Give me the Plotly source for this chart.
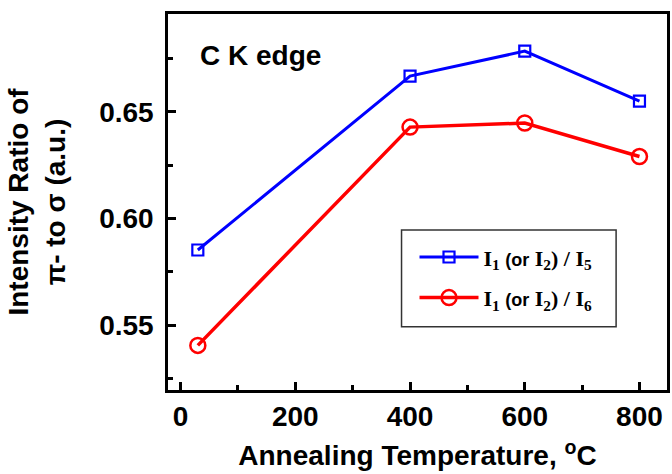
import plotly.graph_objects as go

temps = [30, 400, 600, 800]
ratio_i5 = [0.5852, 0.6667, 0.6784, 0.6550]
ratio_i6 = [0.5405, 0.6428, 0.6447, 0.6290]
name_i5 = 'I<sub>1</sub> <span style="font-family:Liberation Sans;font-size:18px">(or</span> I<sub>2</sub>) / I<sub>5</sub>'
name_i6 = 'I<sub>1</sub> <span style="font-family:Liberation Sans;font-size:18px">(or</span> I<sub>2</sub>) / I<sub>6</sub>'

SANS = "Liberation Sans, Arial, sans-serif"

fig = go.Figure()
fig.add_trace(go.Scatter(
    x=temps, y=ratio_i5, mode="lines+markers", name=name_i5, legendgroup="a",
    line=dict(color="#0000ff", width=3),
    marker=dict(symbol="square-open", size=11, color="#0000ff", line=dict(width=2.2, color="#0000ff")),
))
fig.add_trace(go.Scatter(
    x=temps, y=ratio_i6, mode="lines+markers", name=name_i6, legendgroup="b",
    line=dict(color="#ff0000", width=3.5),
    marker=dict(symbol="circle-open", size=15, color="#ff0000", line=dict(width=2.5, color="#ff0000")),
))

axis_common = dict(
    showline=True, linecolor="black", linewidth=2.5, mirror=True,
    ticks="inside", ticklen=8, tickwidth=2.5, tickcolor="black",
    showgrid=False, zeroline=False,
    tickfont=dict(family=SANS, size=28, color="black", weight="bold"),
)

fig.update_xaxes(
    range=[-22, 848], dtick=200, tick0=0,
    minor=dict(ticks="inside", ticklen=5, tickwidth=2.5, tickcolor="black", dtick=100),
    title=dict(text="Annealing Temperature, <sup>o</sup>C",
               font=dict(family=SANS, size=28, color="black", weight="bold"), standoff=15),
    **axis_common,
)
fig.update_yaxes(
    range=[0.5196, 0.6958], dtick=0.05, tick0=0.55, tickformat=".2f",
    minor=dict(ticks="inside", ticklen=5, tickwidth=2.5, tickcolor="black", dtick=0.025),
    title=dict(text="Intensity Ratio of<br>π- to σ (a.u.)",
               font=dict(family=SANS, size=28, color="black", weight="bold"), standoff=26),
    ticklabelstandoff=6,
    **axis_common,
)

fig.add_annotation(
    text="C K edge", xref="paper", yref="paper", x=0.06, y=0.89,
    xanchor="left", yanchor="middle", showarrow=False,
    font=dict(family=SANS, size=28, color="black", weight="bold"),
)

# legend frame
fig.add_shape(type="rect", xref="paper", yref="paper",
              x0=0.468, x1=0.898, y0=0.168, y1=0.4255,
              line=dict(color="#333333", width=1.5), fillcolor="white", layer="above")

fig.update_layout(
    width=672, height=474,
    margin=dict(l=168, r=2, t=14, b=84),
    paper_bgcolor="white", plot_bgcolor="white",
    showlegend=True,
    legend=dict(
        x=0.494, y=0.409, xanchor="left", yanchor="top",
        borderwidth=0, bgcolor="rgba(0,0,0,0)",
        font=dict(family="Liberation Serif, Times New Roman, serif", size=22, color="black", weight="bold"),
        itemwidth=59, tracegroupgap=9, traceorder="grouped",
    ),
)

fig.write_html("out.html", config={"displayModeBar": False},
               post_script="document.body.style.margin='0';document.body.style.overflow='hidden';")
